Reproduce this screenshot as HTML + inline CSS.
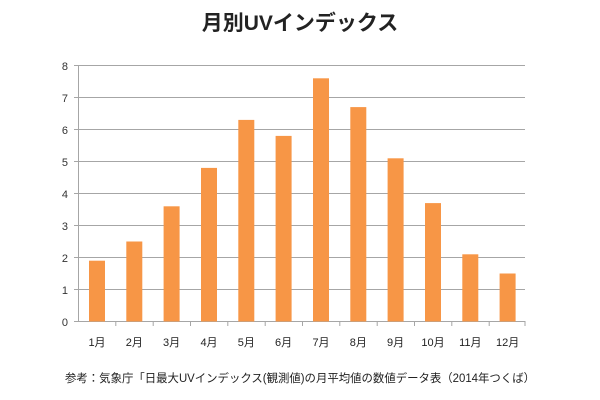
<!DOCTYPE html>
<html><head><meta charset="utf-8"><style>
body{margin:0;background:#fff;}
svg{display:block;font-family:"Liberation Sans","Noto Sans CJK JP",sans-serif;}
</style></head><body>
<svg width="600" height="400" viewBox="0 0 600 400" xmlns="http://www.w3.org/2000/svg">
<rect width="600" height="400" fill="#fff"/>
<text x="300" y="30" text-anchor="middle" font-size="21" font-weight="bold" fill="#222">月別UVインデックス</text>
<g stroke="#a6a6a6" stroke-width="1">
<line x1="74" y1="65.5" x2="525" y2="65.5"/>
<line x1="74" y1="97.5" x2="525" y2="97.5"/>
<line x1="74" y1="129.5" x2="525" y2="129.5"/>
<line x1="74" y1="161.5" x2="525" y2="161.5"/>
<line x1="74" y1="193.5" x2="525" y2="193.5"/>
<line x1="74" y1="225.5" x2="525" y2="225.5"/>
<line x1="74" y1="257.5" x2="525" y2="257.5"/>
<line x1="74" y1="289.5" x2="525" y2="289.5"/>
<line x1="74" y1="321.5" x2="525" y2="321.5"/>
<line x1="78.5" y1="65" x2="78.5" y2="322"/>
</g>
<g stroke="#a6a6a6">
<line x1="115.8" y1="321" x2="115.8" y2="326"/><line x1="153.2" y1="321" x2="153.2" y2="326"/>
<line x1="190.5" y1="321" x2="190.5" y2="326"/><line x1="227.8" y1="321" x2="227.8" y2="326"/>
<line x1="265.2" y1="321" x2="265.2" y2="326"/><line x1="302.5" y1="321" x2="302.5" y2="326"/>
<line x1="339.8" y1="321" x2="339.8" y2="326"/><line x1="377.2" y1="321" x2="377.2" y2="326"/>
<line x1="414.5" y1="321" x2="414.5" y2="326"/><line x1="451.8" y1="321" x2="451.8" y2="326"/>
<line x1="489.2" y1="321" x2="489.2" y2="326"/><line x1="525" y1="321" x2="525" y2="326"/>
</g>
<g font-size="11" fill="#333" text-anchor="end">
<text x="68" y="70">8</text><text x="68" y="102">7</text><text x="68" y="134">6</text>
<text x="68" y="166">5</text><text x="68" y="198">4</text><text x="68" y="230">3</text>
<text x="68" y="262">2</text><text x="68" y="294">1</text><text x="68" y="326">0</text>
</g>
<g fill="#F79646">
<rect x="89" y="260.7" width="16" height="60.8"/>
<rect x="126.3" y="241.5" width="16" height="80"/>
<rect x="163.6" y="206.3" width="16" height="115.2"/>
<rect x="201" y="167.9" width="16" height="153.6"/>
<rect x="238.3" y="119.9" width="16" height="201.6"/>
<rect x="275.6" y="135.9" width="16" height="185.6"/>
<rect x="313" y="78.3" width="16" height="243.2"/>
<rect x="350.3" y="107.1" width="16" height="214.4"/>
<rect x="387.6" y="158.3" width="16" height="163.2"/>
<rect x="425" y="203.1" width="16" height="118.4"/>
<rect x="462.3" y="254.3" width="16" height="67.2"/>
<rect x="499.6" y="273.5" width="16" height="48"/>
</g>
<g font-size="11" fill="#222" text-anchor="middle">
<text x="97" y="346">1月</text><text x="134.3" y="346">2月</text><text x="171.6" y="346">3月</text>
<text x="209" y="346">4月</text><text x="246.3" y="346">5月</text><text x="283.6" y="346">6月</text>
<text x="321" y="346">7月</text><text x="358.3" y="346">8月</text><text x="395.6" y="346">9月</text>
<text x="433" y="346">10月</text><text x="470.3" y="346">11月</text><text x="507.6" y="346">12月</text>
</g>
<text x="300" y="382" text-anchor="middle" font-size="11.5" fill="#222" textLength="470" lengthAdjust="spacingAndGlyphs">参考：気象庁「日最大UVインデックス(観測値)の月平均値の数値データ表（2014年つくば）</text>
</svg>
</body></html>
